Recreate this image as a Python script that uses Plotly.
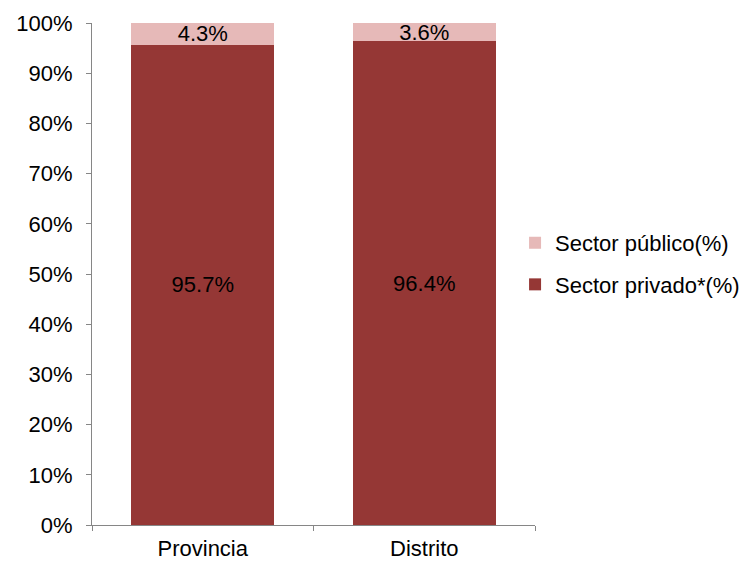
import plotly.graph_objects as go

categories = ["Provincia", "Distrito"]
privado = [95.7, 96.4]
publico = [4.3, 3.6]
series_names = ["Sector privado*(%)", "Sector público(%)"]

FONT = "Liberation Sans, Arial, sans-serif"
FS = 22

fig = go.Figure()
fig.add_trace(go.Bar(
    x=categories, y=[v / 100 for v in privado], name=series_names[0],
    marker=dict(color="#953735", line=dict(width=0)),
    text=[f"{v:.1f}%" for v in privado], textposition="inside",
    insidetextanchor="middle", textfont=dict(color="black", size=FS, family=FONT),
    legendgroup="a", legendrank=2, hoverinfo="skip",
))
fig.add_trace(go.Bar(
    x=categories, y=[v / 100 for v in publico], name=series_names[1],
    marker=dict(color="#E6B9B8", line=dict(width=0)),
    text=[f"{v:.1f}%" for v in publico], textposition="inside",
    insidetextanchor="middle", textfont=dict(color="black", size=FS, family=FONT),
    legendgroup="b", legendrank=1, hoverinfo="skip",
))

fig.update_layout(
    width=746, height=554,
    margin=dict(l=84, r=219, t=15, b=37, autoexpand=False),
    barmode="stack", bargap=0.355,
    plot_bgcolor="white", paper_bgcolor="white",
    font=dict(family=FONT, size=FS, color="black"),
    uniformtext=dict(minsize=FS, mode="show"),
    legend=dict(x=0.955, xanchor="left", y=0.52, yanchor="middle",
                traceorder="grouped", tracegroupgap=10,
                font=dict(size=FS, family=FONT), itemwidth=30),
    showlegend=True,
)
fig.update_yaxes(range=[0, 1], dtick=0.1, tickformat=".0%", showgrid=False,
                 showline=True, linecolor="#868686", linewidth=1,
                 ticks="outside", ticklen=5, tickcolor="#868686",
                 ticklabelstandoff=9,
                 zeroline=False, automargin=False)
fig.update_xaxes(showline=True, linecolor="#868686", linewidth=1,
                 ticks="outside", ticklen=5, tickcolor="#868686",
                 ticklabelstandoff=4,
                 tickson="boundaries", showgrid=False, automargin=False)

fig.write_html("out.html")
